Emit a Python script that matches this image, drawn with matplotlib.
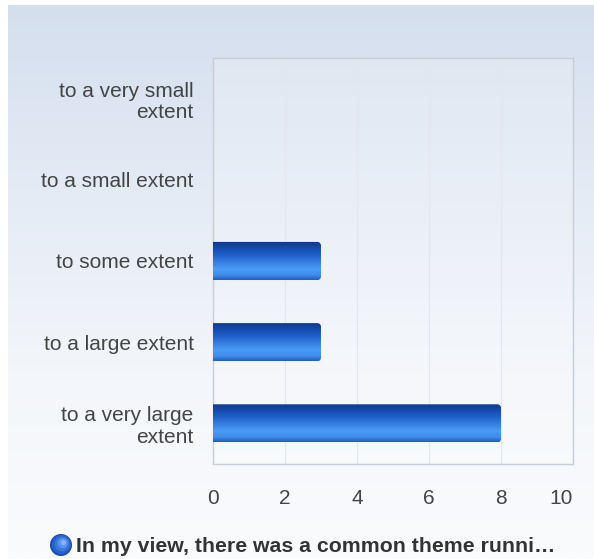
import numpy as np
import matplotlib
matplotlib.use('Agg')
import matplotlib.pyplot as plt
from matplotlib.colors import LinearSegmentedColormap
from matplotlib.path import Path
from matplotlib.patches import PathPatch
from matplotlib.transforms import ScaledTranslation

categories = ['to a very small\nextent', 'to a small extent', 'to some extent',
              'to a large extent', 'to a very large\nextent']
values = [0, 0, 3, 3, 8]
series_name = 'In my view, there was a common theme runni\u2026'
xticks = [0, 2, 4, 6, 8, 10]

plt.rcParams['font.family'] = ['Liberation Sans', 'DejaVu Sans']

W, H = 594, 559
fig = plt.figure(figsize=(W / 100, H / 100), dpi=100)
fig.patch.set_facecolor('white')

# fond en dégradé
bg = fig.add_axes([8 / W, 0, 1 - 8 / W, 1 - 5 / H])
bg.set_axis_off()
grad = np.linspace(0, 1, 256).reshape(-1, 1)
bg_cmap = LinearSegmentedColormap.from_list('bg', ['#d4dfee', '#e4ebf5', '#f3f6fa', '#fafbfd'])
bg.imshow(grad, aspect='auto', cmap=bg_cmap, extent=[0, 1, 0, 1], origin='upper')

# zone du graphique
left, right, top, bottom = 213, 573, 58, 464
ax = fig.add_axes([left / W, 1 - bottom / H, (right - left) / W, (bottom - top) / H])
ax.set_facecolor((1, 1, 1, 0.2))
for s in ax.spines.values():
    s.set_color('#c8ced6')
    s.set_linewidth(1)

y = np.arange(len(categories))
ax.set_xlim(0, 10)
ax.set_ylim(len(categories) - 0.5, -0.5)
ax.set_xticks(xticks)
ax.set_xticklabels([str(t) for t in xticks], fontsize=15, color='#444444')
ax.set_yticks(y)
ax.set_yticklabels(categories, fontsize=15, color='#444444', ha='right', linespacing=1.15)
ax.tick_params(length=0)
ax.tick_params(axis='y', pad=14)
ax.tick_params(axis='x', pad=18)
ax.grid(axis='x', color='#e3e7ee', linewidth=0.8)
ax.set_axisbelow(True)
# le dernier libellé reste dans le cadre
last = ax.get_xticklabels()[-1]
last.set_transform(last.get_transform() + ScaledTranslation(-12 / 100, 0, fig.dpi_scale_trans))

bar_h = 0.47
bar_cmap = LinearSegmentedColormap.from_list(
    'bar', [(0, '#0b3590'), (0.35, '#1f5fc8'), (0.72, '#4a9cf8'), (0.88, '#3f8ae8'), (1, '#1f5cc0')])
bars = ax.barh(y, values, height=bar_h, color='none', edgecolor='none')
rx, ry = 0.1, 0.045   # rayon des coins en unités de données
k = 0.55
for rect, v in zip(bars, values):
    if v <= 0:
        continue
    x0, y0 = rect.get_x(), rect.get_y()
    x1, y1 = x0 + rect.get_width(), y0 + rect.get_height()
    verts = [(x0, y0), (x1 - rx, y0),
             (x1 - rx + k * rx, y0), (x1, y0 + ry - k * ry), (x1, y0 + ry),
             (x1, y1 - ry),
             (x1, y1 - ry + k * ry), (x1 - rx + k * rx, y1), (x1 - rx, y1),
             (x0, y1), (x0, y0)]
    codes = [Path.MOVETO, Path.LINETO,
             Path.CURVE4, Path.CURVE4, Path.CURVE4,
             Path.LINETO,
             Path.CURVE4, Path.CURVE4, Path.CURVE4,
             Path.LINETO, Path.CLOSEPOLY]
    clip = PathPatch(Path(verts, codes), transform=ax.transData, facecolor='none', edgecolor='none')
    ax.add_patch(clip)
    im = ax.imshow(grad, aspect='auto', cmap=bar_cmap, extent=[x0, x1, y1, y0],
                   origin='upper', zorder=3, interpolation='bilinear')
    im.set_clip_path(clip)
ax.set_xlim(0, 10)
ax.set_ylim(len(categories) - 0.5, -0.5)
ax.set_aspect('auto')

# légende
mk = fig.add_axes([49 / W, 1 - 557 / H, 24 / W, 24 / H])
mk.set_axis_off()
mk.set_xlim(-1, 1)
mk.set_ylim(-1, 1)
mk.set_aspect('equal')
for r, c in [(0.92, '#1c4db5'), (0.8, '#2860cc'), (0.62, '#3877de'), (0.42, '#5893ee'), (0.22, '#82b3fa')]:
    off = (0.92 - r) * 0.3
    mk.add_patch(plt.Circle((off, off), r, color=c, lw=0))
fig.text(76 / W, 1 - 546 / H, series_name, fontsize=15.3, fontweight='bold',
         color='#333333', va='center', ha='left')

fig.savefig('out.png', dpi=100)
